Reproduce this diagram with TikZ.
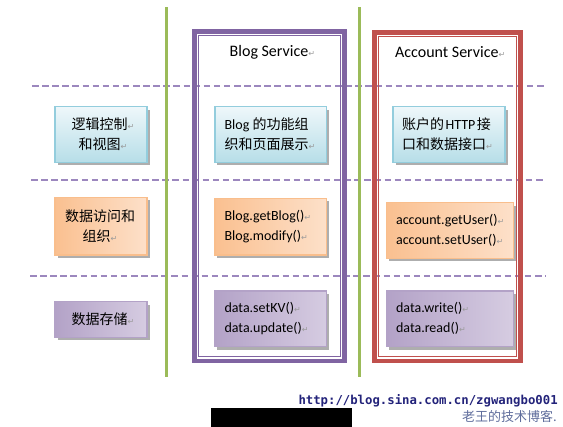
\documentclass[tikz,border=0pt]{standalone}
\usepackage{fontspec}
\setmainfont{Carlito}
\newfontfamily\cjk{Noto Sans CJK SC}
\newfontfamily\arrowfont{DejaVu Sans}
\newfontfamily\urlfont{DejaVu Sans Mono}
\usetikzlibrary{shadows}

\definecolor{viewedge}{HTML}{93CDDD}
\definecolor{viewtop}{HTML}{EEF7FA}
\definecolor{viewbot}{HTML}{B7DEE8}
\definecolor{accessedge}{HTML}{F9BE8C}
\definecolor{accessin}{HTML}{FEEEE2}
\definecolor{accessout}{HTML}{FAC090}
\definecolor{storeedge}{HTML}{B3A2C7}
\definecolor{storein}{HTML}{EDE8F3}
\definecolor{storeout}{HTML}{B3A2C7}
\definecolor{blogframe}{HTML}{8064A2}
\definecolor{accountframe}{HTML}{C0504D}
\definecolor{sepgreen}{HTML}{9BBB59}
\definecolor{dashpurple}{HTML}{9C87BE}
\definecolor{retgray}{HTML}{9A9A9A}
\definecolor{urlblue}{HTML}{23237A}
\definecolor{blogname}{HTML}{5F6D9C}

\newcommand{\zhtxt}[1]{{\cjk #1}}
\newcommand{\ret}{{\arrowfont\fontsize{8}{8}\selectfont\color{retgray}↵}}

\tikzset{
    layerline/.style={dashpurple, line width=1.5pt, dash pattern=on 6.5pt off 3.6pt},
    sepline/.style={sepgreen, line width=3pt},
    layerbox/.style={draw, line width=1.2pt, inner sep=0pt,
        drop shadow={shadow xshift=2.5pt, shadow yshift=-3pt, fill=black!45, opacity=0.7}},
    viewbox/.style={layerbox, draw=viewedge, top color=viewtop, bottom color=viewbot},
    accessbox/.style={layerbox, draw=accessedge, left color=accessout, middle color=accessin, right color=accessin!70!accessout},
    storebox/.style={layerbox, draw=storeedge, left color=storeout, middle color=storein, right color=storein!60!storeout},
    boxtext/.style={inner sep=0pt, align=left, font=\fontsize{14}{20}\selectfont},
    headtext/.style={inner sep=0pt, font=\fontsize{16}{20}\selectfont}
}

\begin{document}
\begin{tikzpicture}[x=1pt,y=-1pt]
        \useasboundingbox (0,0) rectangle (563,427);
        % Dashed lines between the layers.
            \draw[layerline] (32,86) -- (544,86);
            \draw[layerline] (31,180) -- (545,180);
            \draw[layerline] (30,276) -- (546,276);
        % Green separators.
            \draw[sepline] (166.4,7.3) -- (166.4,376.7);
            \draw[sepline] (359.5,7.3) -- (359.5,376.7);
        % The two service frames, thick line with a thin one inside.
            \draw[blogframe, line width=4.7pt] (194.35,31.65) rectangle (344.65,360.95);
            \draw[blogframe, line width=0.9pt] (198.5,35.8) rectangle (340.5,356.8);
            \draw[accountframe, line width=4.7pt] (374.35,32.35) rectangle (520.35,360.95);
            \draw[accountframe, line width=0.9pt] (378.5,36.5) rectangle (516.2,356.8);
        % Titles of the services.
            \node[headtext, anchor=base west] (blogtitle) at (229.5,57) {Blog Service\ret};
            \node[headtext, anchor=base west] (accounttitle) at (395,57.5) {Account Service\ret};
        % Left column: names of the layers.
            \node[viewbox, minimum width=92pt, minimum height=55.6pt] (logiclayer) at (101,134.5) {};
            \node[boxtext, align=center] (logictext) at ([xshift=2pt]logiclayer.center) {\zhtxt{逻辑控制}\ret\\\zhtxt{和视图}\ret};
            \node[accessbox, minimum width=92pt, minimum height=57.7pt] (accesslayer) at (101,226.2) {};
            \node[boxtext, align=center] (accesstext) at ([xshift=-1pt]accesslayer.center) {\zhtxt{数据访问和}\\\zhtxt{组织}\ret};
            \node[storebox, minimum width=92pt, minimum height=35.6pt] (storelayer) at (101,319.5) {};
            \node[boxtext, align=center] (storetext) at ([xshift=2pt]storelayer.center) {\zhtxt{数据存储}\ret};
        % Blog service.
            \node[viewbox, minimum width=111.7pt, minimum height=55.6pt] (blogview) at (270.8,134.5) {};
            \node[boxtext, anchor=west] (blogviewtext) at ([xshift=10pt]blogview.west) {Blog \zhtxt{的功能组}\\\zhtxt{织和页面展示}\ret};
            \node[accessbox, minimum width=111.7pt, minimum height=56.7pt] (blogaccess) at (270.8,226.7) {};
            \node[boxtext, anchor=west] (blogaccesstext) at ([xshift=10pt]blogaccess.west) {Blog.getBlog()\ret\\Blog.modify()\ret};
            \node[storebox, minimum width=111.7pt, minimum height=55.7pt] (blogstore) at (270.8,318.8) {};
            \node[boxtext, anchor=west] (blogstoretext) at ([xshift=10pt]blogstore.west) {data.setKV()\ret\\data.update()\ret};
        % Account service.
            \node[viewbox, minimum width=112pt, minimum height=55.6pt] (accountview) at (449,134.5) {};
            \node[boxtext, anchor=west] (accountviewtext) at ([xshift=9.5pt]accountview.west) {\zhtxt{账户的}\hspace{1.5pt}HTTP\hspace{1.5pt}\zhtxt{接}\\\zhtxt{口和数据接口}\ret};
            \node[accessbox, minimum width=126.8pt, minimum height=55.6pt] (accountaccess) at (449.9,230.5) {};
            \node[boxtext, anchor=west] (accountaccesstext) at ([xshift=10pt]accountaccess.west) {account.getUser()\ret\\account.setUser()\ret};
            \node[storebox, minimum width=126.8pt, minimum height=55.7pt] (accountstore) at (449.9,318.8) {};
            \node[boxtext, anchor=west] (accountstoretext) at ([xshift=10pt]accountstore.west) {data.write()\ret\\data.read()\ret};
        % Blog address at the bottom.
            \node[inner sep=0pt, anchor=base west, text=urlblue, font=\urlfont\bfseries\fontsize{12.3}{14}\selectfont] (bloglink) at (298.3,404.5) {http://blog.sina.com.cn/zgwangbo001};
            \node[inner sep=0pt, anchor=west, text=blogname, font=\cjk\fontsize{13}{14}\selectfont] (blogowner) at (462,416.7) {老王的技术博客.};
            \fill[black] (210.7,408.3) rectangle (352,427);
    \end{tikzpicture}
\end{document}
